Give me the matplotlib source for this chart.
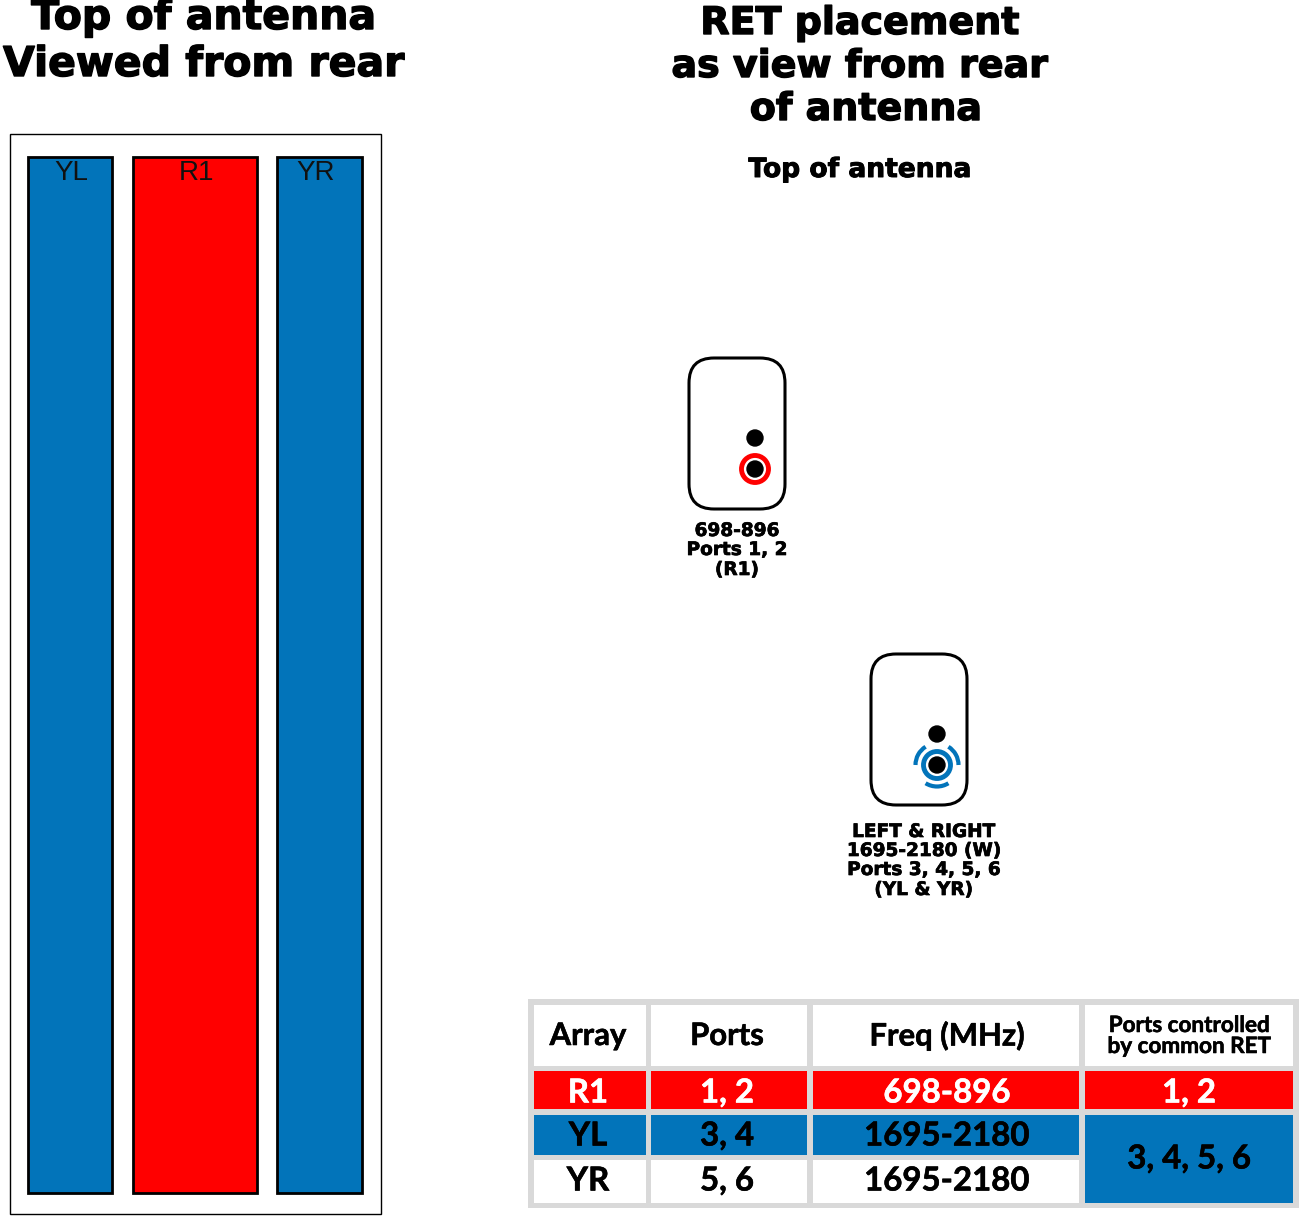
import matplotlib
matplotlib.use("Agg")
import matplotlib.pyplot as plt
import matplotlib.patheffects as pe
from matplotlib.patches import Rectangle, FancyBboxPatch, Circle, Arc

BLUE = "#0274ba"
RED = "#ff0000"
GRAY = "#d9d9d9"

# Antenna arrays, left panel
bar_names = ["YL", "R1", "YR"]
bar_left = [28, 133, 277]
bar_right = [113, 258, 363]
bar_label_x = [71, 197, 316]
bar_colors = [BLUE, RED, BLUE]

# Table contents
col_edges = [(534, 646), (651, 807), (813, 1079), (1085, 1293)]
col_text_x = [588, 727, 947, 1189]
row_edges = [(1005, 1066), (1071, 1109), (1115, 1155), (1160, 1203)]
row_text_y = [1093, 1136, 1181]
header = ["Array", "Ports", "Freq (MHz)", "Ports controlled\nby common RET"]
arrays = ["R1", "YL", "YR"]
ports = ["1, 2", "3, 4", "5, 6"]
freqs = ["698-896", "1695-2180", "1695-2180"]
row_colors = [RED, BLUE, "white"]
row_text = ["white", "black", "black"]

fig = plt.figure(figsize=(12.99, 12.16), dpi=100)
ax = fig.add_axes([0, 0, 1, 1])
ax.set_xlim(0, 1299)
ax.set_ylim(1216, 0)
ax.axis("off")


def title(x, y, s, px, stroke=1.0):
    t = ax.text(x, y, s, ha="center", va="center", fontsize=px * 0.72,
                family="DejaVu Sans", weight="bold", color="black")
    t.set_path_effects([pe.withStroke(linewidth=stroke, foreground="black")])


def cell(x, y, s, px, color="black"):
    t = ax.text(x, y, s, ha="center", va="center", fontsize=px * 0.72, family="Lato",
                weight="bold", color=color, linespacing=1.0)
    t.set_path_effects([pe.withStroke(linewidth=0.4, foreground=color)])


def ret_box(x0, y0, color):
    ax.add_patch(FancyBboxPatch((x0 + 25, y0 + 25), 46, 101,
                                boxstyle="round,pad=25,rounding_size=25",
                                fc="white", ec="black", lw=2.2))
    ax.add_patch(Circle((x0 + 66, y0 + 80), 8, color="black"))
    ax.add_patch(Circle((x0 + 66, y0 + 111), 8, color="black"))
    ax.add_patch(Circle((x0 + 66, y0 + 111), 13.5, fc="none", ec=color, lw=3.5))


# Left panel
title(204, 18, "Top of antenna", 41)
title(204, 65, "Viewed from rear", 41)
ax.add_patch(Rectangle((10, 134), 371, 1080, fc="white", ec="black", lw=1))
for name, x0, x1, lx, c in zip(bar_names, bar_left, bar_right, bar_label_x, bar_colors):
    ax.add_patch(Rectangle((x0, 157), x1 - x0 - 0.5, 1035.5, fc=c, ec="black", lw=2))
    ax.text(lx, 173, name, ha="center", va="center", fontsize=20,
            family="Liberation Sans", color="#111111")

# Right panel titles
title(860, 24, "RET placement", 38)
title(860, 67, "as view from rear", 38)
title(866, 110, "of antenna", 38)
title(860, 170, "Top of antenna", 26.5, stroke=0.7)

# RET 1
ret_box(689, 358, RED)
title(737, 531, "698-896", 18.5, stroke=0.5)
title(737, 550, "Ports 1, 2", 18.5, stroke=0.5)
title(737, 570, "(R1)", 18.5, stroke=0.5)

# RET 2
ret_box(871, 654, BLUE)
for a0, a1 in [(-180, -122), (-58, 0), (58, 122)]:
    ax.add_patch(Arc((937, 765), 43, 43, theta1=a0, theta2=a1, color=BLUE, lw=3))
for y, s in zip([832, 851, 870, 890],
                ["LEFT & RIGHT", "1695-2180 (W)", "Ports 3, 4, 5, 6", "(YL & YR)"]):
    title(924, y, s, 18.5, stroke=0.5)

# Table
ax.add_patch(Rectangle((528, 999), 771, 209, fc=GRAY, ec="none"))
y0, y1 = row_edges[0]
for (x0, x1), tx, s in zip(col_edges, col_text_x, header):
    ax.add_patch(Rectangle((x0, y0), x1 - x0, y1 - y0, fc="white", ec="none"))
    cell(tx, 1036, s, 22.5 if "\n" in s else 31)

for i, (y0, y1) in enumerate(row_edges[1:]):
    vals = [arrays[i], ports[i], freqs[i]]
    for (x0, x1), tx, s in zip(col_edges[:3], col_text_x[:3], vals):
        ax.add_patch(Rectangle((x0, y0), x1 - x0, y1 - y0, fc=row_colors[i], ec="none"))
        cell(tx, row_text_y[i], s, 33, row_text[i])

x0, x1 = col_edges[3]
y0, y1 = row_edges[1]
ax.add_patch(Rectangle((x0, y0), x1 - x0, y1 - y0, fc=RED, ec="none"))
cell(col_text_x[3], row_text_y[0], "1, 2", 33, "white")
y0, y1 = row_edges[2][0], row_edges[3][1]
ax.add_patch(Rectangle((x0, y0), x1 - x0, y1 - y0, fc=BLUE, ec="none"))
cell(col_text_x[3], (y0 + y1) / 2, "3, 4, 5, 6", 33)

fig.savefig("out.png", dpi=100)
